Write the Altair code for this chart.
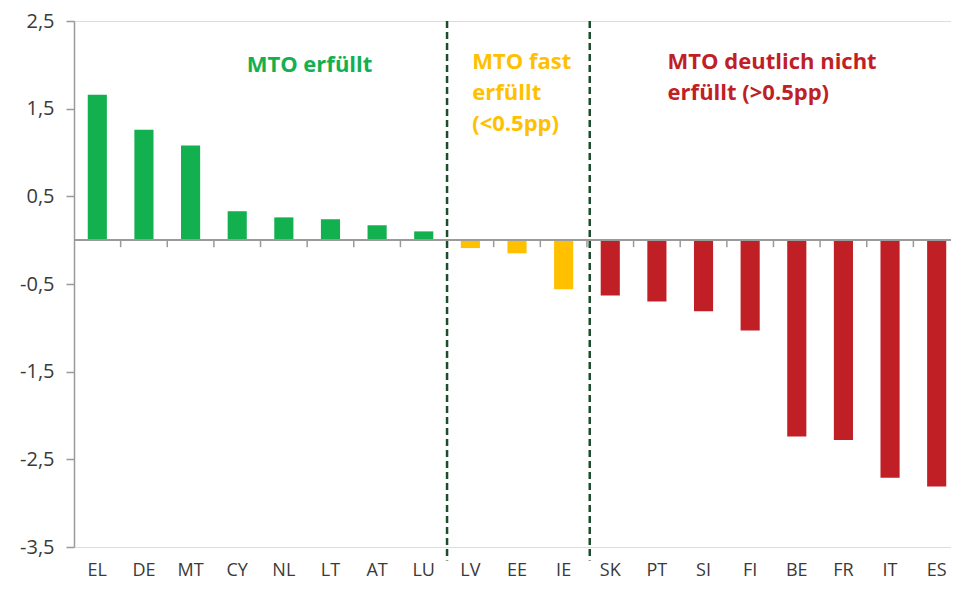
import altair as alt
import pandas as pd

countries = ["EL", "DE", "MT", "CY", "NL", "LT", "AT", "LU", "LV", "EE", "IE",
             "SK", "PT", "SI", "FI", "BE", "FR", "IT", "ES"]
values = [1.66, 1.26, 1.08, 0.33, 0.26, 0.24, 0.17, 0.10, -0.09, -0.15, -0.56,
          -0.63, -0.70, -0.81, -1.03, -2.24, -2.28, -2.71, -2.81]
groups = ["erfüllt"] * 8 + ["fast"] * 3 + ["nicht"] * 8
group_names = ["erfüllt", "fast", "nicht"]
group_colors = ["#12B04E", "#FFC000", "#C01F26"]
y_ticks = [-3.5, -2.5, -1.5, -0.5, 0.5, 1.5, 2.5]

ann_green = ["MTO erfüllt"]
ann_yellow = ["MTO fast", "erfüllt", "(<0.5pp)"]
ann_red = ["MTO deutlich nicht", "erfüllt (>0.5pp)"]

W, H = 886, 526
FONT = "Open Sans"

df = pd.DataFrame({"country": countries, "value": values, "group": groups})

xscale = alt.Scale(domain=countries, paddingInner=0, paddingOuter=0)
yscale = alt.Scale(domain=[-3.5, 2.5], nice=False, zero=False)

x_enc = alt.X("country:N", scale=xscale, sort=countries,
              axis=alt.Axis(title=None, labelAngle=0, domain=False, ticks=False,
                            labelPadding=14, labelFont=FONT, labelFontSize=18,
                            labelColor="#3a3a3a"))
y_enc = alt.Y("value:Q", scale=yscale,
              axis=alt.Axis(title=None, values=y_ticks, grid=False,
                            labelExpr="replace(toString(datum.value), '.', ',')",
                            domainColor="#9a9a9a", domainWidth=1.5,
                            tickColor="#9a9a9a", tickWidth=1.5, tickSize=8,
                            labelPadding=12, labelFont=FONT, labelFontSize=20,
                            labelColor="#3a3a3a"))

bars = alt.Chart(df).mark_bar(width=alt.RelativeBandSize(0.41)).encode(
    x=x_enc, y=y_enc,
    color=alt.Color("group:N", scale=alt.Scale(domain=group_names, range=group_colors),
                    legend=None),
)

zero = alt.Chart(df).mark_rule(color="#9a9a9a", strokeWidth=1.5).encode(
    x=alt.value(0), x2=alt.value(W), y=alt.datum(0)
)

ticks = alt.Chart(df.iloc[1:]).mark_rule(color="#9a9a9a", strokeWidth=1.5).encode(
    x=alt.X("country:N", bandPosition=0),
    y=alt.datum(0), y2=alt.datum(-0.08)
)

def divider(anchor, bandpos):
    d = pd.DataFrame({"country": [anchor]})
    return alt.Chart(d).mark_rule(
        color="#1E4D2B", strokeWidth=2.5, strokeDash=[7, 4]
    ).encode(
        x=alt.X("country:N", bandPosition=bandpos),
        y=alt.datum(2.5), y2=alt.datum(-3.655)
    )

div1 = divider("LV", 0.0)
div2 = divider("SK", 0.06)

def ann(anchor, bandpos, yval, lines, color, align):
    d = pd.DataFrame({"country": [anchor]})
    return alt.Chart(d).mark_text(
        font=FONT, fontSize=22, fontWeight="bold", color=color, align=align,
        baseline="alphabetic", lineHeight=31
    ).encode(
        x=alt.X("country:N", bandPosition=bandpos),
        y=alt.datum(yval),
        text=alt.value(lines if len(lines) > 1 else lines[0]),
    )

t_green = ann("LT", 0.05, 1.92, ann_green, "#12B04E", "center")
t_yellow = ann("LV", 0.54, 1.958, ann_yellow, "#FFC000", "left")
t_red = ann("PT", 0.73, 1.958, ann_red, "#C01F26", "left")

chart = alt.layer(bars, zero, ticks, div1, div2, t_green, t_yellow, t_red).properties(
    width=W, height=H,
    autosize=alt.AutoSizeParams(type="none"),
    padding={"left": 66, "top": 13, "right": -9, "bottom": 36},
).configure_view(stroke=None).configure(background="white")

chart.save("out.html", embed_options={"renderer": "svg", "actions": False})
